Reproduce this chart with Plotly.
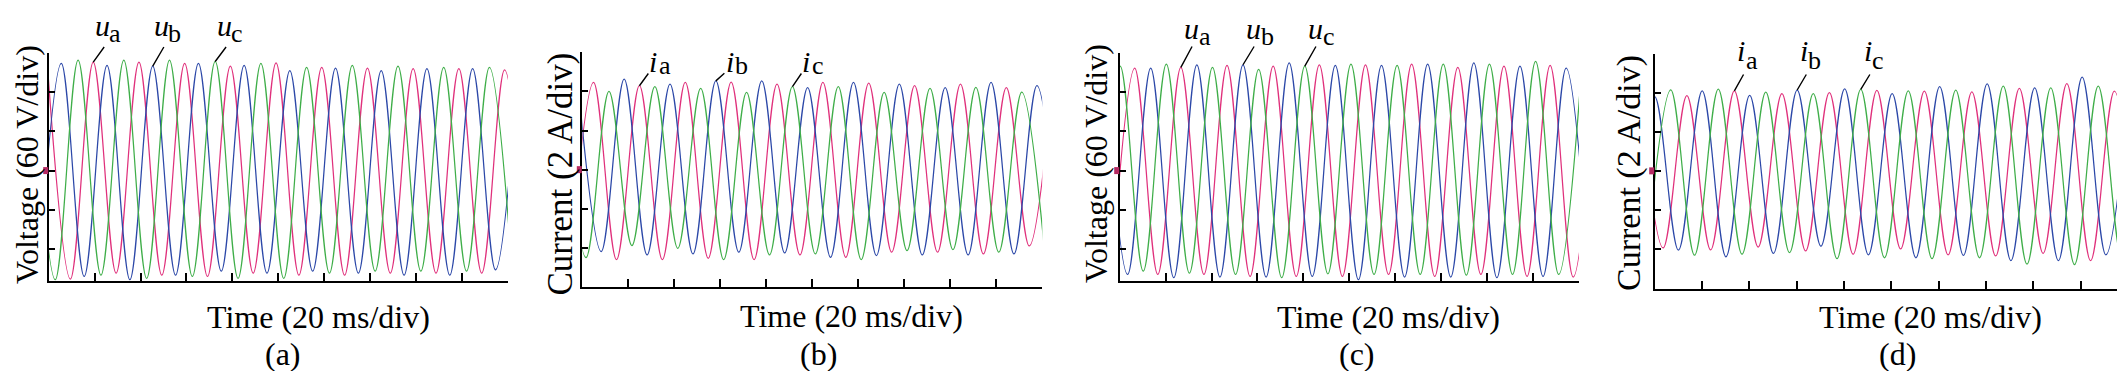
import plotly.graph_objects as go

# ------------------------------------------------------------------ data
# Scope traces.  For every phase: time of the first listed extreme (ms) and the
# successive peak / trough values (half a period apart).
A_PERIOD = 19.9   # ms
A_UA_T0 = -0.5
A_UA = [158, -166, 166, -157, 166, -160, 164, -162, 160, -157, 165, -160,
        158, -160, 157, -157, 156, -157, 156, -157, 154, -157]
A_UB_T0 = -4.45
A_UB = [-160, 164, -162, 161, -167, 160, -160, 164, -154, 161, -157, 153,
        -154, 157, -157, 153, -160, 156, -160, 156, -152, 156]
A_UC_T0 = -7.1
A_UC = [165, -167, 169, -160, 169, -165, 169, -162, 167, -165, 164, -165,
        158, -157, 161, -154, 160, -154, 158, -154, 158, -154]

B_PERIOD = 19.94
B_IA_T0 = -5.07
B_IA = [-4.4, 4.46, -4.6, 4.29, -4.6, 4.46, -4.53, 4.48, -4.6, 4.37, -4.36,
        4.46, -4.48, 4.43, -4.22, 4.29, -4.22, 4.37, -4.31, 4.2, -3.9, 4.3]
B_IB_T0 = -1.74
B_IB = [4.3, -4.19, 4.63, -4.36, 4.37, -4.31, 4.54, -4.22, 4.54, -4.26, 4.2,
        -4.48, 4.46, -4.39, 4.37, -4.36, 4.2, -4.36, 4.46, -4.31, 4.3, -4.3]
B_IC_T0 = -8.34
B_IC = [4.0, -4.5, 4.0, -3.88, 4.25, -4.02, 4.15, -4.6, 3.95, -4.36, 4.25,
        -4.31, 4.25, -4.6, 3.95, -4.14, 4.15, -4.09, 4.2, -4.22, 3.97, -4.2]

C_PERIOD = 20.1
C_UA_T0 = -3.52
C_UA = [-160, 157, -159, 158, -159, 161, -162, 160, -162, 162, -162, 162,
        -159, 163, -162, 158, -159, 160, -162, 161, -163, 160]
C_UB_T0 = -6.6
C_UB = [157, -159, 157, -164, 162, -163, 162, -163, 165, -162, 161, -167,
        161, -163, 163, -163, 165, -164, 160, -162, 157, -160]
C_UC_T0 = -9.85
C_UC = [-158, 160, -154, 163, -157, 158, -159, 155, -164, 160, -158, 163,
        -159, 161, -159, 163, -160, 163, -159, 167, -159, 158]

D_PERIOD = 20.07
D_IA_T0 = -6.47
D_IA = [4.0, -3.95, 3.85, -4.05, 4.1, -3.9, 3.95, -4.1, 4.0, -4.27, 4.12,
        -4.0, 4.08, -4.3, 4.05, -4.36, 4.22, -4.23, 4.47, -4.6, 4.08, -4.3]
D_IB_T0 = -10.035
D_IB = [-4.0, 3.8, -4.06, 4.1, -4.4, 3.86, -4.23, 4.14, -3.85, 4.2, -4.3,
        3.95, -4.45, 4.32, -4.33, 4.46, -4.6, 4.25, -4.6, 4.8, -4.3, 4.5]
D_IC_T0 = -3.235
D_IC = [-4.2, 4.15, -4.32, 4.19, -4.27, 4.03, -4.19, 3.95, -4.5, 4.17, -4.45,
        4.1, -4.5, 4.14, -4.45, 4.34, -4.78, 4.25, -4.8, 4.34, -4.5, 4.3]

TIME_TICKS = [0, 20, 40, 60, 80, 100, 120, 140, 160, 180, 200]   # ms (20 ms/div)
VOLT_TICKS = [-120, -60, 0, 60, 120, 180]                         # V (60 V/div)
AMP_TICKS = [-4, -2, 0, 2, 4, 6]                                  # A (2 A/div)

# ------------------------------------------------------------------ style
W, H = 2125, 371
SERIF = "Liberation Serif"
PINK, BLUE, GREEN = "#e0317c", "#2c48a8", "#3fae49"
MARK = "#b52a62"

# box = (left, right, top, bottom) in px; label positions in px from the top
PANELS = [
    dict(tag="(a)", box=(40.7, 500, 45, 273), yrange=[-169, 180], yticks=VOLT_TICKS,
         ylabel="Voltage (60 V/div)", ysize=32, ylab_xy=(19, 157),
         xlab_xy=(311, 309), tag_xy=(275, 346), period=A_PERIOD, sym="u",
         traces=[(A_UA_T0, A_UA, PINK, "a", 2), (A_UB_T0, A_UB, BLUE, "b", 5),
                 (A_UC_T0, A_UC, GREEN, "c", 8)],
         tail_px=37.5, lead_dx=12, main=(9.0, 34.5), sub=(21.5, 41.0)),
    dict(tag="(b)", box=(574.3, 1034.3, 44.3, 279), yrange=[-6, 6], yticks=AMP_TICKS,
         ylabel="Current (2 A/div)", ysize=35, ylab_xy=(551.6, 166),
         xlab_xy=(843, 308), tag_xy=(810.7, 346), period=B_PERIOD, sym="i",
         traces=[(B_IA_T0, B_IA, PINK, "a", 3), (B_IB_T0, B_IB, BLUE, "b", 6),
                 (B_IC_T0, B_IC, GREEN, "c", 10)],
         tail_px=64, lead_dx=10, main=(14, 70.5), sub=(26, 72.5)),
    dict(tag="(c)", box=(1111.7, 1571, 45, 273), yrange=[-169, 180], yticks=VOLT_TICKS,
         ylabel="Voltage (60 V/div)", ysize=32, ylab_xy=(1088, 156),
         xlab_xy=(1380, 309), tag_xy=(1349.3, 346), period=C_PERIOD, sym="u",
         traces=[(C_UA_T0, C_UA, PINK, "a", 3), (C_UB_T0, C_UB, BLUE, "b", 6),
                 (C_UC_T0, C_UC, GREEN, "c", 9)],
         tail_px=37, lead_dx=12, main=(10.5, 37.5), sub=(24, 44.0)),
    dict(tag="(d)", box=(1646.7, 2120, 45.7, 281), yrange=[-6.05, 6], yticks=AMP_TICKS,
         ylabel="Current (2 A/div)", ysize=34, ylab_xy=(1621, 165),
         xlab_xy=(1922, 309), tag_xy=(1889.3, 346), period=D_PERIOD, sym="i",
         traces=[(D_IA_T0, D_IA, PINK, "a", 4), (D_IB_T0, D_IB, BLUE, "b", 7),
                 (D_IC_T0, D_IC, GREEN, "c", 9)],
         tail_px=65, lead_dx=10, main=(7, 60.0), sub=(17.7, 67.5)),
]

fig = go.Figure()
annotations, shapes = [], []
layout_axes = {}

for n, p in enumerate(PANELS, start=1):
    xs = "" if n == 1 else str(n)
    xk, yk = "x" + xs, "y" + xs
    left, right, top, bottom = p["box"]
    r0, r1 = p["yrange"]
    layout_axes["xaxis" + xs] = dict(
        domain=[left / W, right / W], range=[0, 200], anchor=yk,
        tickvals=TIME_TICKS, showticklabels=False, ticks="inside", ticklen=8,
        tickwidth=1.5, tickcolor="black", showline=True, linecolor="black",
        linewidth=2, showgrid=False, zeroline=False, fixedrange=True)
    layout_axes["yaxis" + xs] = dict(
        domain=[1 - bottom / H, 1 - top / H], range=[r0, r1], anchor=xk,
        tickvals=p["yticks"], showticklabels=False, ticks="inside", ticklen=6,
        tickwidth=1.5, tickcolor="black", showline=True, linecolor="black",
        linewidth=2, showgrid=False, zeroline=False, fixedrange=True)

    # y value (axis units) of the leader-line tails
    tail_val = r1 + (top - p["tail_px"]) / (bottom - top) * (r1 - r0)

    half = p["period"] / 2.0
    for t0, vals, color, sub, lab_idx in p["traces"]:
        times = [t0 + k * half for k in range(len(vals))]
        fig.add_trace(go.Scatter(
            x=times, y=vals, mode="lines", xaxis=xk, yaxis=yk,
            line=dict(color=color, width=1.25, shape="spline", smoothing=1),
            hoverinfo="skip", showlegend=False))
        th, vh = times[lab_idx], vals[lab_idx]
        # leader line from the label down to the marked crest
        annotations.append(dict(
            x=th, y=vh, xref=xk, yref=yk, text="", showarrow=True,
            axref="pixel", ax=p["lead_dx"], ayref=yk, ay=tail_val,
            arrowhead=0, arrowwidth=1.4, arrowcolor="black",
            standoff=0, startstandoff=0))
        annotations.append(dict(
            x=th, y=1 - p["main"][1] / H, xref=xk, yref="paper",
            text="<i>%s</i>" % p["sym"], showarrow=False, borderpad=0,
            xanchor="center", yanchor="bottom", xshift=p["main"][0],
            font=dict(family=SERIF, size=30, color="black")))
        annotations.append(dict(
            x=th, y=1 - p["sub"][1] / H, xref=xk, yref="paper",
            text=sub, showarrow=False, borderpad=0,
            xanchor="center", yanchor="bottom", xshift=p["sub"][0],
            font=dict(family=SERIF, size=26, color="black")))

    # scope ground-reference marker at the 0 level, just left of the axis
    shapes.append(dict(
        type="rect", xref=xk + " domain", yref=yk + " domain",
        xsizemode="pixel", xanchor=0, x0=-5.5, x1=-0.5,
        ysizemode="pixel", yanchor=(0 - r0) / (r1 - r0), y0=-3.5, y1=3.5,
        fillcolor=MARK, line=dict(width=0), layer="above"))

    # axis titles and panel tag
    annotations.append(dict(
        x=p["ylab_xy"][0] / W, y=1 - p["ylab_xy"][1] / H, xref="paper", yref="paper",
        text=p["ylabel"], textangle=-90, showarrow=False,
        xanchor="center", yanchor="middle",
        font=dict(family=SERIF, size=p["ysize"], color="black")))
    annotations.append(dict(
        x=p["xlab_xy"][0] / W, y=1 - p["xlab_xy"][1] / H, xref="paper", yref="paper",
        text="Time (20 ms/div)", showarrow=False, xanchor="center", yanchor="middle",
        font=dict(family=SERIF, size=32, color="black")))
    annotations.append(dict(
        x=p["tag_xy"][0] / W, y=1 - p["tag_xy"][1] / H, xref="paper", yref="paper",
        text=p["tag"], showarrow=False, xanchor="center", yanchor="middle",
        font=dict(family=SERIF, size=32, color="black")))

fig.update_layout(
    width=W, height=H, autosize=False,
    margin=dict(l=0, r=0, t=0, b=0, pad=0),
    paper_bgcolor="white", plot_bgcolor="white",
    showlegend=False, annotations=annotations, shapes=shapes,
    **layout_axes)

fig.write_html("out.html", include_plotlyjs=True, config={"displayModeBar": False})
